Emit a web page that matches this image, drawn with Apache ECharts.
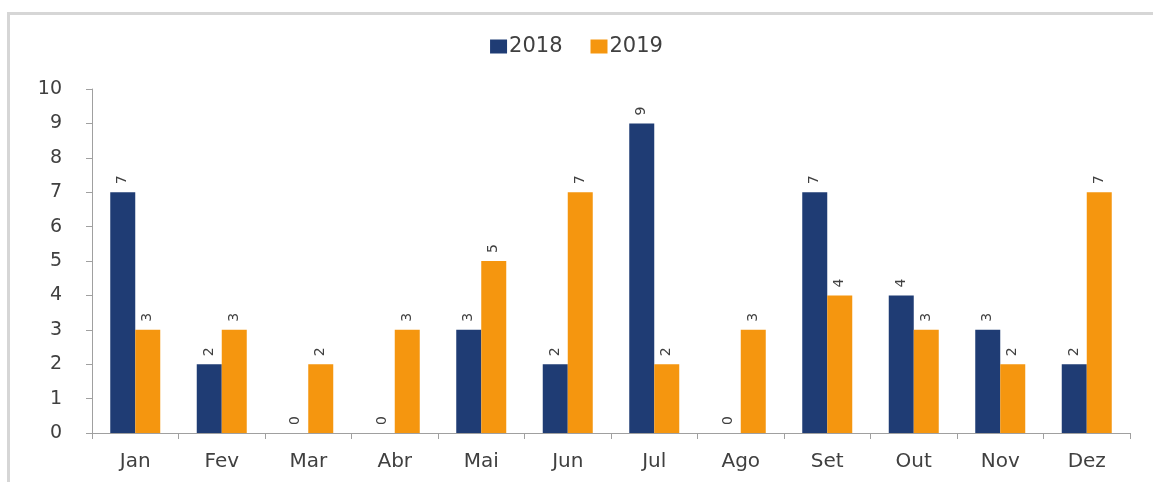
<!DOCTYPE html>
<html>
<head>
<meta charset="utf-8">
<script src="https://cdn.jsdelivr.net/npm/echarts@6/dist/echarts.min.js"></script>
<style>
html,body{margin:0;padding:0;background:#fff;}
#frame{position:absolute;left:7px;top:12px;width:1160px;height:480px;border-left:3px solid #d6d6d6;border-top:3px solid #d6d6d6;box-sizing:border-box;}
#chart{position:absolute;left:0;top:0;width:1153px;height:482px;}
</style>
</head>
<body>
<div id="frame"></div>
<div id="chart"></div>
<script>
const categories = ['Jan','Fev','Mar','Abr','Mai','Jun','Jul','Ago','Set','Out','Nov','Dez'];
const seriesNames = ['2018','2019'];
const values2018 = [7,2,0,0,3,2,9,0,7,4,3,2];
const values2019 = [3,3,2,3,5,7,2,3,4,3,2,7];
const yTicks = [0,10,1];

const chart = echarts.init(document.getElementById('chart'), null, {renderer:'canvas'});
const labelStyle = {
  show: true, position: 'top', rotate: 90, align: 'left', verticalAlign: 'middle',
  distance: 8, fontSize: 14, color: '#404040', fontFamily: 'DejaVu Sans'
};
chart.setOption({
  backgroundColor: 'transparent',
  animation: false,
  color: ['#1f3c74', '#f5960f'],
  legend: {
    data: seriesNames,
    top: 31, left: 'center',
    itemWidth: 17, itemHeight: 14, itemGap: 28,
    icon: 'rect',
    textStyle: {fontSize: 21, color: '#404040', fontFamily: 'DejaVu Sans', padding: [0,0,0,-3]}
  },
  grid: {left: 92, right: 23, top: 89, bottom: 49, containLabel: false},
  xAxis: {
    type: 'category', data: categories,
    axisLine: {lineStyle: {color: '#a0a0a0', width: 1}},
    axisTick: {show: true, length: 6, lineStyle: {color: '#a0a0a0'}},
    axisLabel: {fontSize: 20, color: '#404040', margin: 19, fontFamily: 'DejaVu Sans'}
  },
  yAxis: {
    type: 'value', min: yTicks[0], max: yTicks[1], interval: yTicks[2],
    axisLine: {show: true, lineStyle: {color: '#a0a0a0', width: 1}},
    axisTick: {show: true, length: 6, lineStyle: {color: '#a0a0a0'}},
    splitLine: {show: false},
    axisLabel: {fontSize: 19, color: '#404040', margin: 30, fontFamily: 'DejaVu Sans'}
  },
  series: [
    {name: seriesNames[0], type: 'bar', data: values2018, barWidth: 25, barGap: '0%', label: labelStyle},
    {name: seriesNames[1], type: 'bar', data: values2019, barWidth: 25, barGap: '0%', label: labelStyle}
  ]
});
</script>
</body>
</html>
